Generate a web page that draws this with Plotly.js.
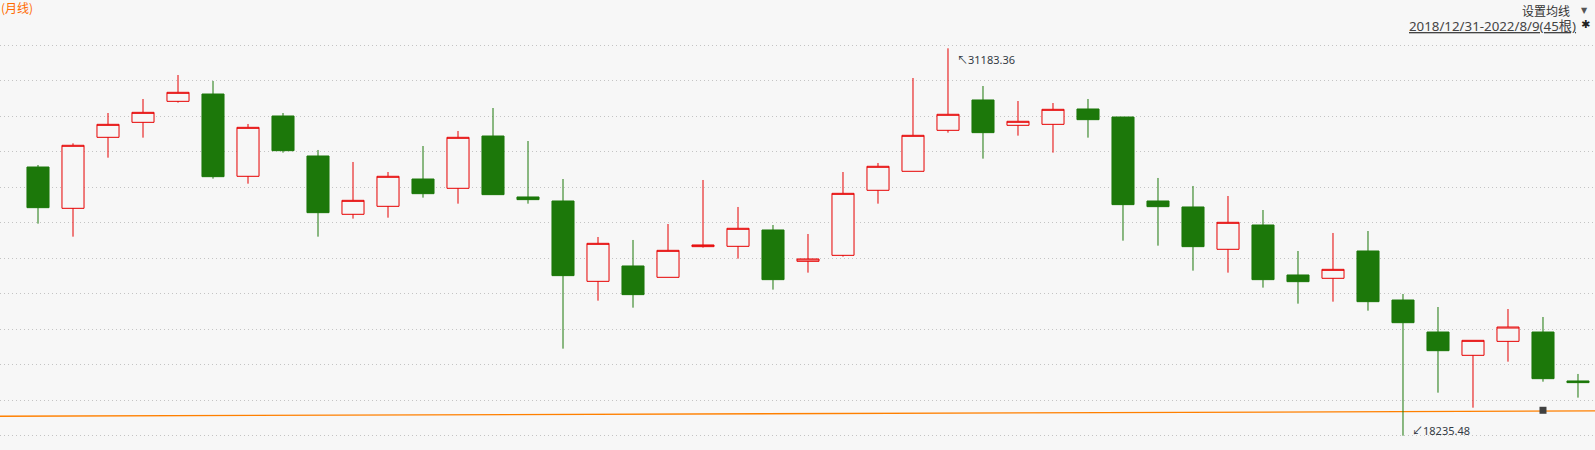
<!DOCTYPE html>
<html>
<head>
<meta charset="utf-8">
<script src="https://cdn.plot.ly/plotly-3.0.1.min.js"></script>
<style>html,body{margin:0;padding:0;background:#f7f7f7;}#chart{width:1595px;height:450px;}</style>
</head>
<body>
<div id="chart"></div>
<script>
// Monthly candles, 2018/12 - 2022/8 (45 bars)
var months = ['2018-12','2019-01','2019-02','2019-03','2019-04','2019-05','2019-06','2019-07','2019-08','2019-09','2019-10','2019-11','2019-12',
  '2020-01','2020-02','2020-03','2020-04','2020-05','2020-06','2020-07','2020-08','2020-09','2020-10','2020-11','2020-12',
  '2021-01','2021-02','2021-03','2021-04','2021-05','2021-06','2021-07','2021-08','2021-09','2021-10','2021-11','2021-12',
  '2022-01','2022-02','2022-03','2022-04','2022-05','2022-06','2022-07','2022-08'];
var openVals = [27216,25835,28208,28709,29411,29656,26905,28921,27584,25635,25902,26815,26504,
  28252,26214,26080,23395,23908,23529,24554,24565,25111,24064,24264,26437,
  27072,28442,29456,28609,28642,29155,28887,26080,25880,24465,25278,23607,
  23496,24409,22771,21701,20922,21389,21701,20065];
var highVals = [27283,28007,29021,29489,30291,30091,28654,29021,27785,27384,27049,27918,28420,
  29188,28085,26815,24877,24777,25311,26782,25880,25278,24977,27049,27350,
  30191,31183.36,29923,29422,29355,29489,28887,26849,26582,26247,25779,24409,
  25011,25077,22971,22537,21423,22470,22203,20299];
var lowVals = [25323,24888,27528,28197,29367,26827,26659,27696,24888,25490,25523,26192,25991,
  26292,25991,21145,22749,22515,23529,24521,24153,23117,23685,24220,25991,
  27072,28364,27495,28264,27696,28197,24754,24587,23752,23685,23184,22649,
  22715,22414,18235.48,19674,19172,20710,20041,19508];
var closeVals = [25857,27941,28642,29043,29712,26893,28542,27762,25690,26102,26905,26325,28208,
  26292,26125,23585,24665,22950,24431,24610,25167,23451,24142,26336,27239,
  28275,28977,28364,28743,29144,28798,25958,25891,24554,25367,23451,23384,
  23796,22715,22013,21077,21423,21868,20142,20009];
// long-term average line (left end, right end) and marker on it
var avgLine = [18885, 19062];
var markerMonth = ['2022-07'];
var markerVal = [19085];
var highLabel = '31183.36';
var lowLabel = '18235.48';
var periodLabel = '2018/12/31-2022/8/9(45根)';

var gridBottom = 18235.48, gridTop = 31283.7;
var gridStep = (gridTop - gridBottom) / 11;
var gridVals = [];
for (var k = 0; k <= 11; k++) gridVals.push(gridBottom + k * gridStep);
var pxUnit = 33.4;
var yMin = gridBottom - pxUnit * 1.3, yMax = 31293.6 + pxUnit * 1;

var iHigh = highVals.indexOf(Math.max.apply(null, highVals));
var iLow = lowVals.indexOf(Math.min.apply(null, lowVals));

var candle = {
  type: 'candlestick',
  x: months, open: openVals, high: highVals, low: lowVals, close: closeVals,
  increasing: {line: {color: '#e60000', width: 1}, fillcolor: '#f7f7f7'},
  decreasing: {line: {color: '#1c780a', width: 1}, fillcolor: '#1c780a'},
  whiskerwidth: 0,
  hoverinfo: 'x+y',
  showlegend: false
};
var marker = {
  type: 'scatter', mode: 'markers', x: markerMonth, y: markerVal,
  marker: {symbol: 'square', size: 7, color: '#404040'},
  showlegend: false, hoverinfo: 'skip'
};

var txtFont = 'Noto Sans, Noto Sans CJK SC, sans-serif';
var PT = 44, PB = 450 - 13; // plot top / bottom in px
function py(px) { return (PB - px) / (PB - PT); }
var layout = {
  width: 1595, height: 450,
  margin: {l: 0, r: 0, t: PT, b: 450 - PB},
  paper_bgcolor: '#f7f7f7', plot_bgcolor: '#f7f7f7',
  boxgap: 0.37, boxgroupgap: 0, boxmode: 'overlay',
  showlegend: false,
  xaxis: {type: 'category', range: [-1.0857, 44.486], showgrid: false, zeroline: false,
          showticklabels: false, ticks: '', showline: false, fixedrange: true,
          rangeslider: {visible: false}},
  yaxis: {range: [yMin, yMax], tickmode: 'array', tickvals: gridVals, showticklabels: false,
          ticks: '', showgrid: true, gridcolor: '#c4c4c4', griddash: '1px,3px', gridwidth: 1,
          zeroline: false, showline: false, fixedrange: true},
  shapes: [
    {type: 'line', xref: 'paper', yref: 'y', x0: 0, x1: 1, y0: avgLine[0], y1: avgLine[1],
     line: {color: '#ff8000', width: 1.3}, layer: 'below'}
  ],
  annotations: [
    {xref: 'paper', yref: 'paper', x: 0, y: py(7), xanchor: 'left', yanchor: 'middle',
     text: '(月线)', showarrow: false, font: {family: 'Noto Sans CJK SC, sans-serif', size: 12, color: '#ff6a00'}, borderpad: 0},
    {xref: 'paper', yref: 'paper', x: 1571 / 1595, y: py(10), xanchor: 'right', yanchor: 'middle',
     text: '设置均线', showarrow: false, font: {family: 'Noto Sans CJK SC, sans-serif', size: 12, color: '#333333'}, borderpad: 0},
    {xref: 'paper', yref: 'paper', x: 1584 / 1595, y: py(10), xanchor: 'center', yanchor: 'middle',
     text: '▼', showarrow: false, font: {family: 'DejaVu Sans, sans-serif', size: 8, color: '#555555'}, borderpad: 0},
    {xref: 'paper', yref: 'paper', x: 1577 / 1595, y: py(26), xanchor: 'right', yanchor: 'middle',
     text: '<u>' + periodLabel + '</u>', showarrow: false, font: {family: 'Noto Sans, Noto Sans CJK SC, sans-serif', size: 13.3, color: '#444444'}, borderpad: 0},
    {xref: 'paper', yref: 'paper', x: 1585 / 1595, y: py(25), xanchor: 'center', yanchor: 'middle',
     text: '✱', showarrow: false, font: {family: 'DejaVu Sans, sans-serif', size: 11, color: '#222222'}, borderpad: 0},
    {xref: 'x', yref: 'y', x: months[iHigh], y: highVals[iHigh], xanchor: 'left', yanchor: 'middle',
     xshift: 8, yshift: -10.7, text: '↖' + highLabel, showarrow: false,
     font: {family: txtFont, size: 11, color: '#333a44'}, borderpad: 0},
    {xref: 'x', yref: 'y', x: months[iLow], y: lowVals[iLow], xanchor: 'left', yanchor: 'middle',
     xshift: 8, yshift: 5.7, text: '↙' + lowLabel, showarrow: false,
     font: {family: txtFont, size: 11, color: '#333a44'}, borderpad: 0}
  ]
};
Plotly.newPlot('chart', [candle, marker], layout, {displayModeBar: false, staticPlot: true});
</script>
</body>
</html>
